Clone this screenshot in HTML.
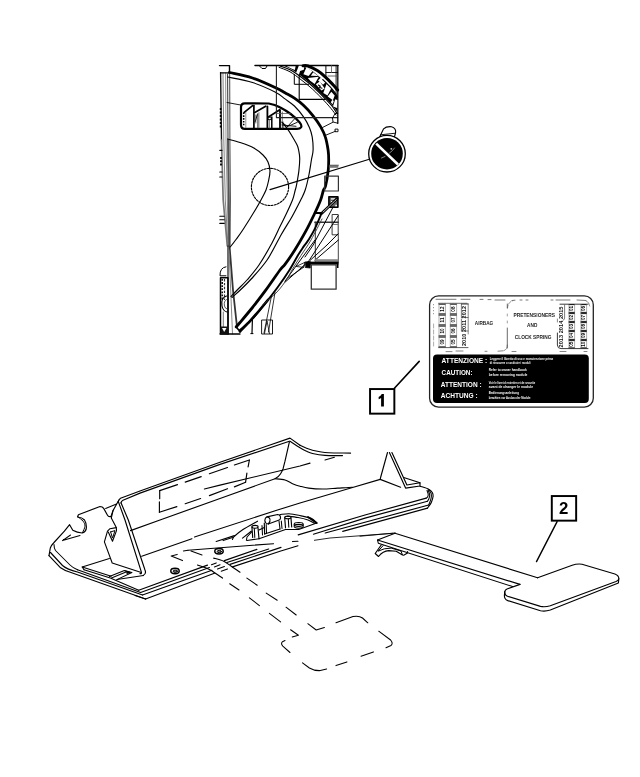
<!DOCTYPE html>
<html><head><meta charset="utf-8"><title>diagram</title>
<style>html,body{margin:0;padding:0;background:#fff;width:640px;height:777px;overflow:hidden}svg{display:block}
text{font-family:"Liberation Sans",sans-serif}svg{filter:grayscale(1)}</style></head>
<body><svg width="640" height="777" viewBox="0 0 640 777">
<rect width="640" height="777" fill="#fff"/>
<g fill="none" stroke="#000" stroke-linecap="round" stroke-linejoin="round">
<polyline points="219.5,65.6 229.5,65.6 229.5,72.5" stroke-width="1.4" />
<polyline points="220.6,72.6 221.5,140.0" stroke-width="1.4" stroke="#111"/>
<polyline points="221.5,140.0 223.2,200.0 227.3,246.0" stroke-width="1.7" stroke="#777"/>
<polyline points="223.0,73.0 223.8,140.0 225.3,200.0 228.0,246.0" stroke-width="0.8" stroke="#666"/>
<polyline points="225.6,73.0 226.0,140.0 227.3,200.0 228.5,246.0" stroke-width="0.9" stroke="#888"/>
<polyline points="227.6,74.0 228.0,140.0" stroke-width="1" stroke="#333"/>
<polyline points="228.0,140.0 228.8,200.0 229.2,246.0" stroke-width="2" stroke="#555"/>
<polyline points="229.7,73.0 229.9,140.0 230.4,200.0 230.0,246.0" stroke-width="0.9" stroke="#333"/>
<polyline points="220.5,72.8 229.5,72.8" stroke-width="1.2" />
<polyline points="228.0,246.0 228.0,334.0" stroke-width="1.3" stroke="#222"/>
<polyline points="229.6,247.0 233.0,290.0 237.0,327.0" stroke-width="1.8" stroke="#333"/>
<polyline points="229.0,250.0 232.5,334.0" stroke-width="0.9" stroke="#777"/>
<polyline points="220.0,334.0 240.0,334.0" stroke-width="1.3" />
<path d="M229.4,72.5 C233.2,73.4 244.7,75.4 252.5,78.0 C260.3,80.6 270.8,85.5 276.2,88.0 C281.6,90.5 282.0,91.1 285.0,92.8 C288.0,94.5 291.3,96.1 294.4,98.2 C297.5,100.3 300.6,102.6 303.7,105.5 C306.8,108.4 310.3,112.3 313.1,115.8 C315.9,119.3 318.6,123.1 320.6,126.6 C322.6,130.1 324.1,133.0 325.3,136.9 C326.6,140.8 327.5,146.2 328.1,150.0 C328.7,153.8 328.7,156.6 328.7,160.0 C328.7,163.4 328.7,166.2 328.2,170.6 C327.7,175.0 326.3,183.0 325.5,186.2 C324.7,189.4 324.3,187.7 323.5,190.0 C322.7,192.3 322.1,196.0 320.6,200.0 C319.1,204.0 316.9,208.8 314.4,214.0 C311.9,219.2 309.1,225.2 305.8,231.2 C302.5,237.2 298.3,244.5 294.8,250.0 C291.3,255.5 287.5,261.1 285.0,264.4 C282.5,267.7 283.3,265.5 280.0,270.0 C276.7,274.5 269.6,284.9 265.0,291.2 C260.4,297.4 256.7,302.3 252.5,307.5 C248.3,312.7 242.7,319.3 240.0,322.5 C237.3,325.7 236.8,326.2 236.2,326.9" stroke-width="2.8" />
<path d="M227.5,77.0 C231.7,77.9 244.6,80.0 252.5,82.5 C260.4,85.0 269.6,89.3 275.0,92.0 C280.4,94.7 281.8,96.6 285.0,98.9 C288.2,101.2 291.3,103.0 294.4,106.0 C297.5,109.0 301.2,113.6 303.7,117.2 C306.2,120.8 308.0,124.2 309.4,127.5 C310.8,130.8 311.6,133.2 312.2,136.9 C312.8,140.7 313.2,146.2 313.1,150.0 C313.0,153.8 312.1,155.9 311.4,160.0 C310.7,164.1 310.0,169.5 309.0,174.5 C308.0,179.5 306.6,185.8 305.2,190.0 C303.8,194.2 302.9,195.5 300.7,200.0 C298.4,204.5 295.0,211.4 291.7,217.2 C288.4,223.0 285.1,227.8 281.0,235.0 C276.9,242.2 271.9,253.0 266.9,260.3 C261.9,267.6 255.6,274.1 251.2,279.0 C246.8,283.9 243.5,286.9 240.3,290.0 C237.1,293.1 233.4,296.2 232.0,297.5" stroke-width="1.15" />
<path d="M282.0,122.3 C283.0,123.5 286.1,127.0 287.8,129.4 C289.6,131.8 290.9,134.2 292.5,136.9 C294.1,139.6 296.2,143.1 297.2,145.3 C298.2,147.5 298.2,147.9 298.6,150.0 C299.0,152.1 299.6,154.6 299.7,158.0 C299.8,161.4 299.4,166.2 298.9,170.6 C298.4,175.0 297.2,181.3 296.6,184.7 C296.0,188.1 295.7,188.4 295.0,191.0 C294.3,193.6 294.0,196.2 292.5,200.0 C291.0,203.8 288.3,209.6 286.2,214.0 C284.1,218.4 282.4,221.8 280.0,226.6 C277.6,231.4 275.5,236.6 272.0,243.0 C268.5,249.4 263.2,258.8 259.0,265.0 C254.8,271.2 250.6,275.8 247.0,280.0 C243.4,284.2 239.9,287.2 237.2,290.0 C234.5,292.8 232.0,295.4 231.0,296.5" stroke-width="1.15" />
<path d="M227.5,139.0 C229.6,139.6 235.6,141.0 240.0,142.5 C244.4,144.0 250.0,145.9 253.8,148.0 C257.6,150.1 260.6,152.7 263.0,155.0 C265.4,157.3 266.8,159.3 268.0,162.0 C269.2,164.7 269.9,167.8 270.0,171.0 C270.1,174.2 269.2,177.8 268.5,181.0 C267.8,184.2 267.1,187.2 266.0,190.0 C264.9,192.8 263.7,194.9 262.0,198.0 C260.3,201.1 259.1,203.5 256.0,208.7 C252.9,213.9 246.7,223.9 243.4,229.0 C240.1,234.1 238.2,236.5 236.0,239.5 C233.8,242.5 231.2,245.8 230.2,247.0" stroke-width="1.15" />
<circle cx="270" cy="186.9" r="18.6" stroke-width="1.15" stroke-dasharray="1.9 1.35"/>
<polyline points="270.0,189.6 368.5,159.5" stroke-width="1.1" />
<path d="M379.4,137.5 L383.6,128.8 Q386,126.3 391.5,126.7 Q396.3,128.3 395.6,132.5 L394.3,137.5" stroke-width="1.1"/>
<polyline points="380.5,134.8 394.6,133.3" stroke-width="0.9" />
<circle cx="387" cy="153.7" r="18.3" stroke-width="1.3" fill="#fff"/>
<circle cx="387" cy="153.7" r="15.8" fill="#000" stroke="none"/>
<polyline points="376.2,143.6 398.0,164.5" stroke-width="2.6" stroke="#fff" stroke-linecap="butt"/>
<circle cx="391.3" cy="148.8" r="0.9" fill="#ccc" stroke="none"/>
<polyline points="389.5,153.0 392.5,150.5 394.5,148.0" stroke-width="0.7" stroke="#bbb"/>
<polyline points="381.5,158.0 385.0,156.5" stroke-width="0.7" stroke="#bbb"/>
<polyline points="227.0,102.5 240.6,105.0" stroke-width="0.9" />
<path d="M244.8,103.3 L268.8,103.5 Q275,104.5 279.8,107.3 Q286,110.5 290.7,114 Q296,118 299.5,122.3 Q302.3,125.8 301,127.3 Q300,128.8 297,128.8 L244.8,128.9 Q241,128.9 241,125 L241,107.2 Q241,103.3 244.8,103.3Z" stroke-width="2.2"/>
<polyline points="253.9,105.5 253.9,128.0" stroke-width="1.7" />
<polyline points="257.9,113.5 257.9,128.0" stroke-width="1" stroke="#333"/>
<polyline points="267.4,106.5 267.4,128.0" stroke-width="1.8" />
<polyline points="271.8,117.0 271.8,128.0" stroke-width="1.5" />
<polyline points="280.0,110.5 280.0,128.0" stroke-width="1.8" />
<polyline points="282.3,112.0 282.3,128.0" stroke-width="0.8" stroke="#555"/>
<polyline points="244.2,112.4 252.6,105.6" stroke-width="1.7" />
<polyline points="254.8,112.4 265.7,106.2" stroke-width="1.7" />
<polyline points="268.8,116.8 279.8,109.7" stroke-width="1.7" />
<polyline points="243.7,112.5 243.7,126.0" stroke-width="1.5" stroke-dasharray="1.6 1.2" stroke-linecap="butt"/>
<polyline points="245.8,112.5 245.8,127.5" stroke-width="0.7" stroke="#666"/>
<polyline points="259.0,112.5 259.0,127.5" stroke-width="0.7" stroke="#666"/>
<polyline points="255.2,121.7 257.3,114.6" stroke-width="1" />
<polyline points="255.8,115.0 255.8,123.0" stroke-width="0.8" stroke="#444"/>
<rect x="268.4" y="117.2" width="2.8" height="2.4" stroke-width="0.9"/>
<polyline points="269.5,120.0 269.5,128.0" stroke-width="0.7" stroke="#555"/>
<polyline points="287.4,126.6 282.0,122.3" stroke-width="1" />
<polyline points="287.4,126.6 295.0,118.4" stroke-width="0.9" />
<polyline points="287.4,126.6 297.3,122.3" stroke-width="0.9" />
<polyline points="282.0,125.0 296.0,126.3" stroke-width="0.9" />
<polyline points="283.0,122.0 283.0,128.0" stroke-width="0.8" />
<polyline points="276.4,65.6 276.4,117.6 337.7,117.6" stroke-width="1.1" stroke="#222"/>
<polyline points="276.2,113.5 290.0,113.5" stroke-width="0.8" stroke="#555"/>
<polyline points="255.0,65.6 338.0,65.6" stroke-width="1.5" />
<polyline points="337.8,65.6 337.8,123.3" stroke-width="1.3" />
<path d="M259.5,66 L262,68.5 L265.5,68.5 L267,66" stroke-width="1"/>
<polyline points="294.3,74.5 294.3,84.3 308.7,84.3" stroke-width="1" />
<polyline points="299.2,73.7 299.2,99.4 325.3,99.4" stroke-width="1.1" />
<polyline points="325.9,65.6 325.9,77.6" stroke-width="1" />
<polyline points="336.1,65.6 336.1,100.0" stroke-width="0.9" />
<polyline points="326.0,72.5 337.7,72.5" stroke-width="0.9" />
<polyline points="328.0,76.0 337.7,76.0" stroke-width="0.8" stroke="#444"/>
<polyline points="331.5,65.6 331.5,72.5" stroke-width="0.8" stroke="#555"/>
<path d="M284,66 Q290,68.3 293,70.3 L301.7,76.6 L313.4,86 L325.2,97.7 L331.5,104.5 L337,111.5 L337.5,97 Q334.5,92.2 330.6,87.4 L322.8,79.6 L313.4,71.8 Q308.5,68.6 304,66.4 L296,65.8 Z" fill="#000" stroke="none"/>
<polygon points="286.6,66.2 295.6,66.3 294.9,70.0 291.3,68.5" fill="#fff" stroke="none"/>
<polygon points="296.1,72.7 298.8,65.7 304.5,65.7 303.8,69.7 300.1,71.1 298.9,74.7" fill="#fff" stroke="none"/>
<polygon points="303.4,74.2 306.5,67.3 312.4,71.2 308.6,76.1" fill="#fff" stroke="none"/>
<polygon points="310.9,75.7 313.2,72.3 318.3,76.1" fill="#fff" stroke="none"/>
<polygon points="307.8,78.1 318.8,76.8 314.7,83.9 310.2,80.8" fill="#fff" stroke="none"/>
<polygon points="318.1,80.5 321.0,77.6 325.4,82.5 323.0,84.8" fill="#fff" stroke="none"/>
<polygon points="315.8,84.2 319.8,81.5 324.7,88.4 321.5,90.4" fill="#fff" stroke="none"/>
<polygon points="323.3,92.9 326.5,83.9 332.3,86.3 327.5,95.5" fill="#fff" stroke="none"/>
<polygon points="327.7,96.5 331.3,91.8 334.7,95.5 332.9,100.2" fill="#fff" stroke="none"/>
<polygon points="333.0,106.5 335.2,99.2 337.3,100.1 337.1,108.1" fill="#fff" stroke="none"/>
<polygon points="330.8,102.3 332.3,99.8 333.9,101.1 332.5,104.2" fill="#fff" stroke="none"/>
<polyline points="318.3,85.0 320.3,86.3 319.3,87.3 322.0,88.2" stroke-width="1.1" />
<path d="M280.0,66.0 C281.7,66.6 286.4,67.9 290.0,69.8 C293.6,71.7 297.8,74.7 301.7,77.6 C305.6,80.5 309.5,83.5 313.4,87.0 C317.3,90.5 322.1,95.5 325.2,98.7 C328.3,101.9 330.0,103.5 332.0,106.0 C334.0,108.5 336.2,112.2 337.0,113.4" stroke-width="1.2" />
<path d="M279.0,67.3 C280.8,68.0 286.4,69.8 290.0,71.8 C293.6,73.8 297.1,76.7 300.9,79.6 C304.7,82.5 308.8,85.7 312.7,89.3 C316.6,92.9 321.3,97.8 324.4,101.0 C327.4,104.2 329.1,106.2 331.0,108.5 C332.9,110.8 335.2,113.9 336.0,115.0" stroke-width="1" />
<path d="M303.0,65.8 C303.8,65.8 305.6,65.2 308.0,66.0 C310.4,66.8 314.4,68.8 317.3,70.6 C320.2,72.4 322.6,74.4 325.2,76.8 C327.8,79.2 330.9,82.5 333.0,84.7 C335.1,86.9 336.9,89.2 337.7,90.1" stroke-width="3" />
<path d="M322.8,79.6 C324.1,80.9 328.7,85.3 330.6,87.4 C332.6,89.5 333.4,90.6 334.5,92.2 C335.6,93.8 337.0,96.2 337.5,97.0" stroke-width="1.2" />
<polyline points="332.5,118.2 335.0,113.5 337.7,113.5" stroke-width="0.9" />
<polyline points="332.5,118.2 333.0,122.0 337.7,123.2" stroke-width="0.9" />
<polyline points="322.5,127.5 332.8,122.3" stroke-width="0.9" />
<polyline points="326.2,135.0 335.6,131.2" stroke-width="0.9" />
<rect x="335.4" y="129.1" width="2.6" height="2.6" stroke-width="0.9"/>
<rect x="329.4" y="165.2" width="9" height="2.6" fill="#777" stroke="none"/>
<polyline points="329.4,165.2 338.4,165.2" stroke-width="0.8" stroke="#444"/>
<rect x="324.7" y="176.1" width="13.7" height="14.9" stroke-width="1.2" stroke="#333"/>
<polyline points="325.5,177.0 325.5,181.0" stroke-width="1" stroke="#555"/>
<rect x="328.9" y="196.7" width="9" height="10.6" stroke-width="1.6" fill="#666"/>
<rect x="331" y="198.3" width="4.2" height="1.2" fill="#fff" stroke="none"/>
<rect x="331" y="201" width="2" height="1.6" fill="#fff" stroke="none"/>
<rect x="335.3" y="204.8" width="1.6" height="1.5" fill="#fff" stroke="none"/>
<polyline points="337.0,198.8 321.0,214.0" stroke-width="2.8" />
<polyline points="336.3,199.6 322.5,212.6" stroke-width="0.8" stroke="#fff" stroke-dasharray="2.2 1"/>
<polyline points="315.8,213.1 321.0,212.9" stroke-width="2" />
<rect x="332.5" y="214.5" width="5.7" height="20.3" stroke-width="0.9" stroke="#222"/>
<polyline points="314.9,222.2 338.1,222.2" stroke-width="1.6" stroke="#333"/>
<polyline points="315.3,222.2 315.3,262.0" stroke-width="1" stroke="#333"/>
<polyline points="338.3,235.0 338.3,262.0" stroke-width="1" stroke="#444"/>
<polyline points="333.5,224.5 337.5,224.5" stroke-width="0.8" stroke="#555"/>
<polyline points="333.0,207.2 313.2,245.0 305.0,257.0" stroke-width="1" />
<polyline points="338.1,215.8 319.2,245.0 308.4,261.6" stroke-width="1" />
<polyline points="338.1,233.8 327.0,245.0 310.3,260.2" stroke-width="1" />
<polyline points="338.4,240.0 315.0,260.2" stroke-width="1" />
<polyline points="315.0,240.0 285.0,281.2" stroke-width="1" />
<rect x="315" y="259.2" width="23.4" height="2.6" fill="#888" stroke="none"/>
<polyline points="307.0,263.1 338.4,263.1" stroke-width="2.9" stroke-linecap="butt"/>
<polyline points="337.7,262.0 337.7,268.0" stroke-width="1.6" stroke-linecap="butt"/>
<path d="M305.2,262 L310.3,261.6 L310.3,268 L305.5,267.5 Z" fill="#000" stroke-width="0.8"/>
<path d="M296.5,266.3 L305,262.3 L303.5,267 Z" fill="#fff" stroke-width="0.8"/>
<rect x="311.3" y="264.8" width="24.8" height="24.4" stroke-width="1.3" stroke="#333"/>
<polyline points="305.2,264.4 285.0,282.2" stroke-width="1" />
<polyline points="303.7,267.2 288.7,277.5" stroke-width="0.9" />
<path d="M320.6,215.6 C319.6,217.9 316.4,225.6 314.4,229.7 C312.4,233.8 310.2,237.1 308.4,240.0 C306.6,242.9 305.1,244.4 303.4,246.9 C301.7,249.4 300.4,251.2 298.1,255.0 C295.8,258.9 292.9,264.6 289.5,270.0 C286.1,275.4 281.6,281.9 277.5,287.5 C273.4,293.1 269.2,298.5 265.0,303.7 C260.8,308.9 256.7,314.3 252.5,318.7 C248.3,323.1 242.1,328.1 240.0,330.0" stroke-width="1.9" />
<path d="M268.0,300.0 C266.3,302.0 261.3,308.1 258.0,312.0 C254.7,315.9 251.0,319.9 248.0,323.2 C245.0,326.4 241.3,330.1 240.0,331.5" stroke-width="2.6" />
<path d="M322.0,219.0 C320.2,222.5 314.5,233.9 311.0,240.0 C307.5,246.1 304.2,250.5 301.0,255.5 C297.8,260.5 294.4,265.9 292.0,270.0 C289.6,274.1 288.8,276.3 286.3,280.0 C283.8,283.7 281.0,287.8 277.0,292.0 C273.0,296.2 264.8,303.0 262.3,305.2" stroke-width="0.9" stroke="#333"/>
<polyline points="236.2,326.9 240.0,331.5" stroke-width="1.6" />
<polyline points="275.0,292.5 268.5,332.0" stroke-width="0.8" />
<polyline points="271.5,296.0 264.0,333.0" stroke-width="0.8" />
<rect x="262" y="320" width="10.5" height="14" stroke-width="0.9"/>
<polyline points="264.5,333.5 267.0,321.0 269.5,333.5" stroke-width="0.8" />
<polyline points="252.4,320.0 252.0,333.5" stroke-width="1.2" />
<polyline points="250.8,333.6 253.0,333.6" stroke-width="1" />
<polyline points="219.8,216.2 224.2,216.2" stroke-width="1.1" />
<polyline points="219.8,219.8 224.2,219.8" stroke-width="1.1" />
<polyline points="219.8,223.4 224.2,223.4" stroke-width="1.1" />
<polyline points="219.8,150.3 222.0,150.3" stroke-width="1.2" />
<polyline points="219.8,172.0 222.0,172.0" stroke-width="1.2" />
<polyline points="219.8,177.0 222.0,177.0" stroke-width="1.2" />
<polyline points="221.0,157.0 221.0,166.0" stroke-width="1.8" stroke-dasharray="2 1.2" stroke-linecap="butt"/>
<polyline points="220.6,108.0 220.6,128.0" stroke-width="1.6" stroke-dasharray="2 1.5" stroke-linecap="butt"/>
<path d="M226,266.8 Q219.8,267.5 220,275.8 L226,275.8" stroke-width="1"/>
<rect x="220.5" y="277.8" width="7.5" height="56" stroke-width="1.5"/>
<polyline points="222.2,279.0 222.2,300.0" stroke-width="1.5" stroke-dasharray="1.8 1.3" stroke-linecap="butt"/>
<polyline points="224.5,279.0 224.5,300.0" stroke-width="1.2" stroke-dasharray="2.4 1.5" stroke="#333" stroke-linecap="butt"/>
<path d="M226.5,296 Q220.5,298 222,306 Q223,311 227,312" stroke-width="1.1"/>
<path d="M226.5,299.5 Q223.5,301 224.5,306 Q225,308.5 227,309" stroke-width="0.9" stroke="#444"/>
<polyline points="223.3,312.0 223.3,327.0" stroke-width="0.8" stroke="#555"/>
<rect x="220.5" y="326.5" width="7.5" height="7.5" fill="#111" stroke="none"/>
<path d="M222,328 L226.5,328 L224.2,332 Z" fill="#fff" stroke="none"/>
<rect x="429.6" y="295.8" width="163.7" height="111.4" rx="9" stroke-width="1.3" stroke="#222"/>
<rect x="433" y="354.5" width="155.8" height="48.6" rx="4" fill="#000" stroke="none"/>
<polyline points="436.0,299.3 456.0,299.3" stroke-width="0.8" stroke="#555"/>
<polyline points="461.0,299.3 470.0,299.3" stroke-width="0.8" stroke="#555"/>
<polyline points="480.0,299.4 483.0,299.4" stroke-width="0.8" stroke="#555"/>
<polyline points="488.0,299.6 491.0,299.6" stroke-width="0.8" stroke="#555"/>
<polyline points="495.0,300.0 505.0,300.0" stroke-width="0.8" stroke="#555"/>
<polyline points="512.0,300.5 515.0,300.2" stroke-width="0.8" stroke="#555"/>
<polyline points="520.0,300.0 522.0,300.0" stroke-width="0.8" stroke="#555"/>
<polyline points="526.0,300.0 528.0,300.0" stroke-width="0.8" stroke="#555"/>
<polyline points="551.0,300.0 553.0,300.0" stroke-width="0.8" stroke="#555"/>
<polyline points="556.0,300.0 570.0,300.0" stroke-width="0.8" stroke="#555"/>
<polyline points="577.0,300.0 586.0,300.5" stroke-width="0.8" stroke="#555"/>
<path d="M507.5,308 Q508,302 513,300.6" stroke-width="0.7" stroke="#666" stroke-dasharray="3 1.5"/>
<path d="M507.3,345 Q507.5,349.5 504,350.6" stroke-width="0.7" stroke="#666"/>
<path d="M586,300.8 Q589.5,302 589.8,306" stroke-width="0.7" stroke="#666"/>
<polyline points="507.3,304.0 507.3,308.0" stroke-width="0.8" stroke="#444"/>
<polyline points="507.3,328.0 507.3,348.0" stroke-width="0.8" stroke="#444"/>
<polyline points="507.3,314.0 507.3,316.0" stroke-width="0.7" stroke="#777"/>
<polyline points="507.3,321.0 507.3,323.0" stroke-width="0.7" stroke="#777"/>
<polyline points="456.0,351.0 463.0,351.0" stroke-width="0.8" stroke="#666"/>
<polyline points="485.0,351.3 487.0,351.3" stroke-width="0.8" stroke="#666"/>
<polyline points="498.0,351.2 503.0,350.8" stroke-width="0.8" stroke="#666"/>
<polyline points="512.0,351.5 516.0,351.5" stroke-width="0.8" stroke="#666"/>
<polyline points="560.0,351.5 566.0,351.5" stroke-width="0.8" stroke="#666"/>
<polyline points="584.0,351.5 587.0,351.5" stroke-width="0.8" stroke="#666"/>
<polyline points="446.0,351.6 452.0,351.6" stroke-width="0.8" stroke="#666"/>
<polyline points="433.5,304.2 433.5,314.5" stroke-width="0.9" stroke="#777" stroke-dasharray="1 2" stroke-linecap="butt"/>
<polyline points="433.6,324.0 433.6,346.0" stroke-width="0.7" stroke="#888" stroke-dasharray="4 2"/>
<polyline points="439.0,304.2 445.4,304.2" stroke-width="1" stroke="#111"/>
<polyline points="439.0,313.9 445.4,313.9" stroke-width="1" stroke="#111"/>
<polyline points="439.0,304.2 439.0,313.9" stroke-width="0.6" stroke="#777"/>
<polyline points="445.4,304.2 445.4,313.9" stroke-width="0.6" stroke="#777"/>
<text transform="translate(443.7,309.1) rotate(-90)" font-size="4.6" font-weight="bold" text-anchor="middle" fill="#000" stroke="none">12</text>
<polyline points="439.0,315.1 445.4,315.1" stroke-width="1" stroke="#111"/>
<polyline points="439.0,324.9 445.4,324.9" stroke-width="1" stroke="#111"/>
<polyline points="439.0,315.1 439.0,324.9" stroke-width="0.6" stroke="#777"/>
<polyline points="445.4,315.1 445.4,324.9" stroke-width="0.6" stroke="#777"/>
<text transform="translate(443.7,320.0) rotate(-90)" font-size="4.6" font-weight="bold" text-anchor="middle" fill="#000" stroke="none">11</text>
<polyline points="439.0,326.1 445.4,326.1" stroke-width="1" stroke="#111"/>
<polyline points="439.0,335.9 445.4,335.9" stroke-width="1" stroke="#111"/>
<polyline points="439.0,326.1 439.0,335.9" stroke-width="0.6" stroke="#777"/>
<polyline points="445.4,326.1 445.4,335.9" stroke-width="0.6" stroke="#777"/>
<text transform="translate(443.7,331.0) rotate(-90)" font-size="4.6" font-weight="bold" text-anchor="middle" fill="#000" stroke="none">10</text>
<polyline points="439.0,337.1 445.4,337.1" stroke-width="1" stroke="#111"/>
<polyline points="439.0,346.9 445.4,346.9" stroke-width="1" stroke="#111"/>
<polyline points="439.0,337.1 439.0,346.9" stroke-width="0.6" stroke="#777"/>
<polyline points="445.4,337.1 445.4,346.9" stroke-width="0.6" stroke="#777"/>
<text transform="translate(443.7,342.0) rotate(-90)" font-size="4.6" font-weight="bold" text-anchor="middle" fill="#000" stroke="none">09</text>
<polyline points="450.3,304.2 456.6,304.2" stroke-width="1" stroke="#111"/>
<polyline points="450.3,313.9 456.6,313.9" stroke-width="1" stroke="#111"/>
<polyline points="450.3,304.2 450.3,313.9" stroke-width="0.6" stroke="#777"/>
<polyline points="456.6,304.2 456.6,313.9" stroke-width="0.6" stroke="#777"/>
<text transform="translate(455.0,309.1) rotate(-90)" font-size="4.6" font-weight="bold" text-anchor="middle" fill="#000" stroke="none">08</text>
<polyline points="450.3,315.1 456.6,315.1" stroke-width="1" stroke="#111"/>
<polyline points="450.3,324.9 456.6,324.9" stroke-width="1" stroke="#111"/>
<polyline points="450.3,315.1 450.3,324.9" stroke-width="0.6" stroke="#777"/>
<polyline points="456.6,315.1 456.6,324.9" stroke-width="0.6" stroke="#777"/>
<text transform="translate(455.0,320.0) rotate(-90)" font-size="4.6" font-weight="bold" text-anchor="middle" fill="#000" stroke="none">07</text>
<polyline points="450.3,326.1 456.6,326.1" stroke-width="1" stroke="#111"/>
<polyline points="450.3,335.9 456.6,335.9" stroke-width="1" stroke="#111"/>
<polyline points="450.3,326.1 450.3,335.9" stroke-width="0.6" stroke="#777"/>
<polyline points="456.6,326.1 456.6,335.9" stroke-width="0.6" stroke="#777"/>
<text transform="translate(455.0,331.0) rotate(-90)" font-size="4.6" font-weight="bold" text-anchor="middle" fill="#000" stroke="none">06</text>
<polyline points="450.3,337.1 456.6,337.1" stroke-width="1" stroke="#111"/>
<polyline points="450.3,346.9 456.6,346.9" stroke-width="1" stroke="#111"/>
<polyline points="450.3,337.1 450.3,346.9" stroke-width="0.6" stroke="#777"/>
<polyline points="456.6,337.1 456.6,346.9" stroke-width="0.6" stroke="#777"/>
<text transform="translate(455.0,342.0) rotate(-90)" font-size="4.6" font-weight="bold" text-anchor="middle" fill="#000" stroke="none">05</text>
<text transform="translate(466.4,326) rotate(-90)" font-size="4.8" font-weight="bold" text-anchor="middle" fill="#111" stroke="none" textLength="40" lengthAdjust="spacingAndGlyphs">2010 2011 2012</text>
<polyline points="461.4,304.0 468.2,304.0" stroke-width="0.9" stroke="#222"/>
<polyline points="461.4,304.0 461.4,317.0" stroke-width="0.7" stroke="#444"/>
<polyline points="468.2,304.0 468.2,334.0" stroke-width="0.7" stroke="#555"/>
<polyline points="461.4,319.0 461.4,331.0" stroke-width="0.7" stroke="#444"/>
<polyline points="461.4,331.0 468.0,331.0" stroke-width="0.7" stroke="#444"/>
<polyline points="461.4,317.5 468.0,317.5" stroke-width="0.7" stroke="#444"/>
<polyline points="438.6,347.6 468.0,347.6" stroke-width="0.8" stroke="#333"/>
<polyline points="438.6,303.3 467.0,303.3" stroke-width="0.8" stroke="#444"/>
<text transform="translate(563.3,327) rotate(-90)" font-size="4.9" font-weight="bold" text-anchor="middle" fill="#111" stroke="none" textLength="41" lengthAdjust="spacingAndGlyphs">2013 2014 2015</text>
<path d="M560,304.2 L588,304.2" stroke-width="0.9" stroke="#222"/>
<path d="M557.4,333 L557.4,345 Q557.6,348.6 561,348.6 L588,348.6" stroke-width="0.9" stroke="#222"/>
<path d="M564.6,305 L564.6,318 Q564.6,320 563,320.3" stroke-width="0.7" stroke="#444"/>
<polyline points="557.4,319.0 557.4,322.0" stroke-width="0.7" stroke="#555"/>
<polyline points="569.0,304.6 574.6,304.6" stroke-width="1" stroke="#111"/>
<polyline points="569.0,312.4 574.6,312.4" stroke-width="1" stroke="#111"/>
<polyline points="569.0,304.6 569.0,312.4" stroke-width="0.6" stroke="#777"/>
<polyline points="574.6,304.6 574.6,312.4" stroke-width="0.6" stroke="#777"/>
<text transform="translate(573.3,308.5) rotate(-90)" font-size="4.6" font-weight="bold" text-anchor="middle" fill="#000" stroke="none">01</text>
<polyline points="569.0,313.6 574.6,313.6" stroke-width="1" stroke="#111"/>
<polyline points="569.0,321.4 574.6,321.4" stroke-width="1" stroke="#111"/>
<polyline points="569.0,313.6 569.0,321.4" stroke-width="0.6" stroke="#777"/>
<polyline points="574.6,313.6 574.6,321.4" stroke-width="0.6" stroke="#777"/>
<text transform="translate(573.3,317.5) rotate(-90)" font-size="4.6" font-weight="bold" text-anchor="middle" fill="#000" stroke="none">02</text>
<polyline points="569.0,322.6 574.6,322.6" stroke-width="1" stroke="#111"/>
<polyline points="569.0,330.4 574.6,330.4" stroke-width="1" stroke="#111"/>
<polyline points="569.0,322.6 569.0,330.4" stroke-width="0.6" stroke="#777"/>
<polyline points="574.6,322.6 574.6,330.4" stroke-width="0.6" stroke="#777"/>
<text transform="translate(573.3,326.5) rotate(-90)" font-size="4.6" font-weight="bold" text-anchor="middle" fill="#000" stroke="none">03</text>
<polyline points="569.0,331.6 574.6,331.6" stroke-width="1" stroke="#111"/>
<polyline points="569.0,339.4 574.6,339.4" stroke-width="1" stroke="#111"/>
<polyline points="569.0,331.6 569.0,339.4" stroke-width="0.6" stroke="#777"/>
<polyline points="574.6,331.6 574.6,339.4" stroke-width="0.6" stroke="#777"/>
<text transform="translate(573.3,335.5) rotate(-90)" font-size="4.6" font-weight="bold" text-anchor="middle" fill="#000" stroke="none">04</text>
<polyline points="569.0,340.6 574.6,340.6" stroke-width="1" stroke="#111"/>
<polyline points="569.0,347.9 574.6,347.9" stroke-width="1" stroke="#111"/>
<polyline points="569.0,340.6 569.0,347.9" stroke-width="0.6" stroke="#777"/>
<polyline points="574.6,340.6 574.6,347.9" stroke-width="0.6" stroke="#777"/>
<text transform="translate(573.3,344.2) rotate(-90)" font-size="4.6" font-weight="bold" text-anchor="middle" fill="#000" stroke="none">05</text>
<polyline points="581.0,304.6 586.6,304.6" stroke-width="1" stroke="#111"/>
<polyline points="581.0,312.4 586.6,312.4" stroke-width="1" stroke="#111"/>
<polyline points="581.0,304.6 581.0,312.4" stroke-width="0.6" stroke="#777"/>
<polyline points="586.6,304.6 586.6,312.4" stroke-width="0.6" stroke="#777"/>
<text transform="translate(585.3,308.5) rotate(-90)" font-size="4.6" font-weight="bold" text-anchor="middle" fill="#000" stroke="none">06</text>
<polyline points="581.0,313.6 586.6,313.6" stroke-width="1" stroke="#111"/>
<polyline points="581.0,321.4 586.6,321.4" stroke-width="1" stroke="#111"/>
<polyline points="581.0,313.6 581.0,321.4" stroke-width="0.6" stroke="#777"/>
<polyline points="586.6,313.6 586.6,321.4" stroke-width="0.6" stroke="#777"/>
<text transform="translate(585.3,317.5) rotate(-90)" font-size="4.6" font-weight="bold" text-anchor="middle" fill="#000" stroke="none">07</text>
<polyline points="581.0,322.6 586.6,322.6" stroke-width="1" stroke="#111"/>
<polyline points="581.0,330.4 586.6,330.4" stroke-width="1" stroke="#111"/>
<polyline points="581.0,322.6 581.0,330.4" stroke-width="0.6" stroke="#777"/>
<polyline points="586.6,322.6 586.6,330.4" stroke-width="0.6" stroke="#777"/>
<text transform="translate(585.3,326.5) rotate(-90)" font-size="4.6" font-weight="bold" text-anchor="middle" fill="#000" stroke="none">08</text>
<polyline points="581.0,331.6 586.6,331.6" stroke-width="1" stroke="#111"/>
<polyline points="581.0,339.4 586.6,339.4" stroke-width="1" stroke="#111"/>
<polyline points="581.0,331.6 581.0,339.4" stroke-width="0.6" stroke="#777"/>
<polyline points="586.6,331.6 586.6,339.4" stroke-width="0.6" stroke="#777"/>
<text transform="translate(585.3,335.5) rotate(-90)" font-size="4.6" font-weight="bold" text-anchor="middle" fill="#000" stroke="none">09</text>
<polyline points="581.0,340.6 586.6,340.6" stroke-width="1" stroke="#111"/>
<polyline points="581.0,347.9 586.6,347.9" stroke-width="1" stroke="#111"/>
<polyline points="581.0,340.6 581.0,347.9" stroke-width="0.6" stroke="#777"/>
<polyline points="586.6,340.6 586.6,347.9" stroke-width="0.6" stroke="#777"/>
<text transform="translate(585.3,344.2) rotate(-90)" font-size="4.6" font-weight="bold" text-anchor="middle" fill="#000" stroke="none">10</text>
<text x="484" y="325.2" font-size="4.7" font-weight="bold" text-anchor="middle" fill="#222" stroke="none" textLength="18.5" lengthAdjust="spacingAndGlyphs">AIRBAG</text>
<text x="534.2" y="317" font-size="4.7" font-weight="bold" text-anchor="middle" fill="#222" stroke="none" textLength="41.5" lengthAdjust="spacingAndGlyphs">PRETENSIONERS</text>
<text x="532.2" y="327.4" font-size="4.7" font-weight="bold" text-anchor="middle" fill="#222" stroke="none" textLength="10.2" lengthAdjust="spacingAndGlyphs">AND</text>
<text x="533.1" y="338.9" font-size="4.7" font-weight="bold" text-anchor="middle" fill="#222" stroke="none" textLength="36.6" lengthAdjust="spacingAndGlyphs">CLOCK SPRING</text>
<rect x="370.05" y="389.05" width="24.3" height="24.6" stroke-width="1.95" stroke-linejoin="miter"/>
<polyline points="394.4,388.3 419.2,361.4" stroke-width="1.6" />
<path d="M383.9,406.4 L381.1,406.4 L381.1,398.1 Q380,398.9 378.7,399.3 L378.6,396.9 Q380.8,396.1 381.8,394.1 L383.9,394.1 Z" fill="#000" stroke="none"/>
<rect x="551.8" y="496.05" width="24.35" height="24.6" stroke-width="1.95" stroke-linejoin="miter"/>
<polyline points="557.1,521.6 536.5,561.6" stroke-width="1.4" />
<text x="563.7" y="513.7" font-size="16.8" font-weight="bold" text-anchor="middle" fill="#000" stroke="none">2</text>
<text x="441.6" y="362.9" font-size="7.2" font-weight="bold" fill="#fff" stroke="none" textLength="45.6" lengthAdjust="spacingAndGlyphs">ATTENZIONE :</text>
<text x="441.6" y="375.3" font-size="7.2" font-weight="bold" fill="#fff" stroke="none" textLength="30.9" lengthAdjust="spacingAndGlyphs">CAUTION:</text>
<text x="440.8" y="386.9" font-size="7.2" font-weight="bold" fill="#fff" stroke="none" textLength="40.8" lengthAdjust="spacingAndGlyphs">ATTENTION :</text>
<text x="440.8" y="398.2" font-size="7.2" font-weight="bold" fill="#fff" stroke="none" textLength="36.9" lengthAdjust="spacingAndGlyphs">ACHTUNG :</text>
<text x="489.8" y="359.9" font-size="3.2" font-weight="bold" fill="#fff" stroke="none" textLength="63.4" lengthAdjust="spacingAndGlyphs">Leggere il libretto di uso e manutenzione prima</text>
<text x="489.8" y="363.8" font-size="3.2" font-weight="bold" fill="#fff" stroke="none" textLength="40.7" lengthAdjust="spacingAndGlyphs">di rimuovere o sostituire i moduli</text>
<text x="488.8" y="371" font-size="3.2" font-weight="bold" fill="#fff" stroke="none" textLength="37.9" lengthAdjust="spacingAndGlyphs">Refer to owner handbook</text>
<text x="488.8" y="375.9" font-size="3.2" font-weight="bold" fill="#fff" stroke="none" textLength="38.6" lengthAdjust="spacingAndGlyphs">before removing module</text>
<text x="488.8" y="383.6" font-size="3.2" font-weight="bold" fill="#fff" stroke="none" textLength="46.4" lengthAdjust="spacingAndGlyphs">Voir le livret d entretien et de securite</text>
<text x="488.8" y="387.8" font-size="3.2" font-weight="bold" fill="#fff" stroke="none" textLength="44.2" lengthAdjust="spacingAndGlyphs">avant de changer le module</text>
<text x="488.8" y="394.2" font-size="3.2" font-weight="bold" fill="#fff" stroke="none" textLength="30.2" lengthAdjust="spacingAndGlyphs">Bedienungsanleitung</text>
<text x="488.8" y="398.6" font-size="3.2" font-weight="bold" fill="#fff" stroke="none" textLength="41.7" lengthAdjust="spacingAndGlyphs">beachten vor Ausbau der Module</text>
<path d="M49,555.6 L50.3,548 Q51.5,545 54,542.5 L64.4,531.2 L69.6,524.7 L72.8,530.3 Q77,532.8 82.2,533 Q85.5,532 86.2,529 Q87,524 84.5,520 Q82,517.3 77.5,517 L78.4,514.7 L100,506.5 Q102.5,506.6 103.7,508.4 L107.5,515.3 Q109,517 110.9,516.6 L113,510.6 L118.8,500.3" stroke-width="1.15"/>
<polyline points="105.6,508.4 116.5,504.0" stroke-width="1.05" />
<path d="M78.1,516.9 C78.9,517.6 81.9,519.7 83.1,521.2 C84.2,522.8 85.1,524.3 85.0,526.2 C84.9,528.1 82.9,531.5 82.5,532.5" stroke-width="1" />
<polyline points="70.5,535.0 62.5,540.6 80.0,535.5" stroke-width="1.05" />
<path d="M54,544.4 Q54,548 55.5,550.5 L70,565 Q73,568 77.5,569.7" stroke-width="1.05"/>
<path d="M49,555.6 L60.6,567.8 Q65,571 71,572.5 L145.6,599" stroke-width="1.15"/>
<path d="M50.5,552.5 L62.5,565.5 Q67,569.5 77.5,572 L142.5,595" stroke-width="1.15"/>
<polyline points="77.5,569.7 140.6,592.5" stroke-width="1.15" />
<polyline points="84.0,569.7 110.3,578.0 138.7,590.2" stroke-width="1.15" />
<polyline points="138.7,590.2 207.5,565.1" stroke-width="1.15" />
<polyline points="140.6,592.5 209.4,567.5" stroke-width="1.15" />
<polyline points="142.5,595.0 211.9,570.3" stroke-width="1.15" />
<polyline points="145.6,599.0 214.4,573.3" stroke-width="1.15" />
<polyline points="135.0,595.5 145.6,599.0" stroke-width="1.05" />
<polyline points="224.4,560.6 256.9,549.4" stroke-width="1.15" />
<polyline points="226.9,562.5 268.7,549.0" stroke-width="1.15" />
<polyline points="230.0,564.4 281.0,547.4" stroke-width="1.15" />
<polyline points="232.5,566.9 280.0,551.2 298.0,545.8" stroke-width="1.15" />
<polyline points="298.2,534.9 365.0,515.0 426.2,498.1" stroke-width="1.15" />
<polyline points="313.4,534.2 365.0,518.1 427.5,501.3" stroke-width="1.15" />
<polyline points="325.2,533.0 428.7,505.0" stroke-width="1.15" />
<polyline points="342.7,531.4 427.5,508.1" stroke-width="1.15" />
<path d="M420.0,486.2 C421.4,486.7 426.6,488.1 428.7,489.2 C430.8,490.2 431.6,491.3 432.3,492.5 C433.0,493.7 433.3,494.6 433.1,496.3 C432.9,498.0 432.2,500.5 431.3,502.5 C430.4,504.5 428.1,507.2 427.5,508.1" stroke-width="1.15" />
<path d="M428.7,489.4 C429.1,490.1 430.8,492.1 431.2,493.7 C431.6,495.2 431.4,496.8 431.0,498.7 C430.6,500.6 429.1,503.9 428.7,505.0" stroke-width="1.05" />
<path d="M428.1,490.0 C428.4,490.8 429.6,493.6 429.7,495.0 C429.8,496.4 429.3,497.6 428.9,498.7 C428.5,499.8 427.7,500.9 427.5,501.3" stroke-width="1.05" />
<path d="M427.0,490.5 C427.2,491.2 428.1,493.4 428.2,494.5 C428.3,495.6 427.9,496.4 427.6,497.0 C427.3,497.6 426.4,497.9 426.2,498.1" stroke-width="1.05" />
<polyline points="380.2,479.4 380.6,477.5 387.5,452.5" stroke-width="1.15" />
<polyline points="380.2,479.4 400.6,487.2" stroke-width="1.15" />
<polyline points="389.4,452.5 405.6,488.1 420.0,486.0 420.0,482.8 406.9,485.0 391.9,452.5" stroke-width="1.15" />
<polyline points="403.7,477.5 420.0,482.8" stroke-width="1.15" />
<path d="M118.3,502 Q118.2,500 120.5,498.3 L140,491 L220,462.2 L290,438.1 L300,445.3" stroke-width="1.15"/>
<path d="M121,503 Q121,501.3 123,500.2 L140,493.1 L220,464.4 L289.4,441.2" stroke-width="1.15"/>
<path d="M118.3,501.5 L125,520 L141.3,571.8 Q142,574 140,573.6" stroke-width="1.15"/>
<path d="M121,502.8 L128.3,520 L145,570 Q146.6,574 143.1,575.6" stroke-width="1.15"/>
<polyline points="113.0,510.6 111.3,518.1 116.3,527.6 110.0,528.7 107.5,531.2 104.4,541.9 112.2,563.0 141.3,572.5" stroke-width="1.1" />
<polyline points="116.3,527.6 116.5,530.6 112.5,541.2 108.3,532.0" stroke-width="1.1" />
<polyline points="110.6,531.9 115.0,530.6 112.5,538.1 110.6,531.9" stroke-width="1" />
<polyline points="109.4,558.4 82.2,566.9 84.0,569.7" stroke-width="1.05" />
<polyline points="82.2,566.9 111.2,576.2" stroke-width="1.05" />
<polyline points="109.4,576.6 124.4,570.6 131.9,572.5 116.9,579.6" stroke-width="1.05" />
<polyline points="111.5,578.0 126.0,572.0 129.5,573.0" stroke-width="1.05" />
<polyline points="125.3,571.0 129.8,572.3 127.0,573.5" stroke-width="1.05" />
<polyline points="116.9,579.6 143.5,575.5" stroke-width="1.05" />
<path d="M130.5,530.6 L160,520 L220,498.5 L275,478.7 Q279,476.5 280.6,473.7 Q282.3,471 283.1,468.7 L285,461.2 L289.4,441.9" stroke-width="1.15"/>
<polyline points="141.7,556.3 191.9,538.7" stroke-width="1.15" />
<polyline points="194.5,537.0 277.5,510.0 300.0,503.0 350.0,488.2 380.2,479.4" stroke-width="1.15" />
<polyline points="204.4,489.0 220.0,485.1 300.0,466.0 310.0,463.1" stroke-width="1.15" />
<polyline points="159.7,490.6 177.5,484.6" stroke-width="1.15" />
<polyline points="185.2,482.1 201.2,476.6" stroke-width="1.15" />
<polyline points="209.4,473.7 227.5,467.5" stroke-width="1.15" />
<polyline points="234.4,465.0 249.4,460.0" stroke-width="1.15" />
<polyline points="159.7,490.6 159.7,498.7" stroke-width="1.15" />
<polyline points="159.4,501.9 159.4,512.2" stroke-width="1.15" />
<polyline points="159.4,512.2 176.9,506.6" stroke-width="1.15" />
<polyline points="185.2,503.7 200.6,498.5" stroke-width="1.15" />
<polyline points="209.4,495.6 227.5,488.7" stroke-width="1.15" />
<polyline points="234.4,486.9 245.6,482.2" stroke-width="1.15" />
<polyline points="249.4,460.0 248.1,466.9" stroke-width="1.15" />
<polyline points="246.9,473.1 245.6,482.2" stroke-width="1.15" />
<path d="M300.0,445.3 C301.0,445.8 303.9,447.2 306.0,448.0 C308.1,448.8 310.2,449.7 312.5,450.3 C314.8,450.9 317.3,451.4 320.0,451.8 C322.7,452.2 323.6,452.5 328.7,452.7 C333.8,452.9 347.0,453.0 350.6,453.1" stroke-width="1.15" />
<path d="M290.0,441.3 C291.7,442.4 297.3,446.2 300.0,447.8 C302.7,449.4 303.9,450.1 306.0,451.0 C308.1,451.9 309.3,452.8 312.5,453.5 C315.7,454.2 320.0,455.0 325.0,455.4 C330.0,455.8 339.6,455.6 342.5,455.6" stroke-width="1.15" />
<polyline points="325.0,460.0 334.4,457.2" stroke-width="1.05" />
<path d="M275.0,478.7 C276.7,478.9 282.1,479.2 285.0,480.0 C287.9,480.8 290.0,482.7 292.5,483.7 C295.0,484.7 297.3,485.5 300.0,486.2 C302.7,486.9 304.9,487.6 308.7,488.1 C312.4,488.6 317.7,489.0 322.5,489.0 C327.3,489.0 332.6,488.4 337.5,488.1 C342.4,487.8 349.6,487.4 352.0,487.2" stroke-width="1.15" />
<ellipse cx="175" cy="571" rx="4.2" ry="2.7" stroke-width="1.5"/>
<ellipse cx="175.3" cy="571.2" rx="2.1" ry="1.2" stroke-width="0.95" fill="#777"/>
<ellipse cx="219" cy="551.3" rx="4.2" ry="2.7" stroke-width="1.5"/>
<ellipse cx="219.3" cy="551.5" rx="2.1" ry="1.2" stroke-width="0.95" fill="#777"/>
<polyline points="177.2,554.4 171.2,556.0 182.5,560.6" stroke-width="1.05" />
<polyline points="183.4,551.0 188.0,550.3" stroke-width="1.05" />
<polyline points="188.0,550.3 273.4,543.7" stroke-width="1.15" />
<polyline points="191.0,551.0 202.0,555.0" stroke-width="1.05" />
<path d="M213.7,558.1 C215.4,558.6 220.8,559.9 223.7,561.2 C226.6,562.6 228.5,564.4 231.2,566.2 C233.9,568.0 238.5,571.2 240.0,572.2" stroke-width="1.15" />
<path d="M197.5,565.0 C199.5,565.7 206.5,568.0 209.4,569.4 C212.3,570.8 212.8,571.6 215.0,573.1 C217.2,574.6 221.2,577.3 222.5,578.1" stroke-width="1.15" />
<polyline points="211.5,564.7 216.2,562.9" stroke-width="1.05" />
<polyline points="214.4,566.9 220.0,564.7" stroke-width="1.05" />
<polyline points="217.5,569.0 224.4,566.5" stroke-width="1.05" />
<polyline points="221.2,571.2 227.5,569.0" stroke-width="1.05" />
<polyline points="246.9,578.1 257.2,585.3" stroke-width="1.05" />
<polyline points="266.2,593.1 277.2,600.3" stroke-width="1.05" />
<polyline points="286.0,607.2 296.2,615.0" stroke-width="1.05" />
<polyline points="229.7,583.7 239.0,590.0" stroke-width="1.05" />
<polyline points="249.4,597.8 259.4,605.6" stroke-width="1.05" />
<polyline points="269.4,613.4 280.6,621.9" stroke-width="1.05" />
<polyline points="307.8,623.7 316.2,630.0 324.4,627.5" stroke-width="1.05" />
<polyline points="290.6,629.7 298.4,635.3 292.2,636.9" stroke-width="1.05" />
<path d="M336,622.8 L353,616.6 Q359,615.5 362.5,618 L367.8,622.8" stroke-width="1.05"/>
<path d="M378.7,631.2 L390.6,640 Q393.5,643.5 391,645.5 L386,647.8" stroke-width="1.05"/>
<polyline points="373.4,651.9 361.0,656.2" stroke-width="1.05" />
<polyline points="346.9,661.9 336.0,665.6" stroke-width="1.05" />
<path d="M326.6,669 L320.3,670.6 Q314,670.8 309.4,668 L302.5,662.8" stroke-width="1.05"/>
<path d="M290,652.5 L282.8,646.2 Q280.5,643.5 282.5,641.7 L285,640.6" stroke-width="1.05"/>
<polyline points="216.2,541.5 234.4,535.6" stroke-width="1.15" />
<polyline points="223.1,540.6 232.5,537.5" stroke-width="1.05" />
<path d="M232.5,539.4 C232.8,538.9 232.7,537.9 234.4,536.2 C236.2,534.6 239.2,532.0 243.0,529.5 C246.8,527.0 255.1,522.6 257.5,521.2" stroke-width="1.15" />
<polyline points="242.5,538.1 251.2,531.2" stroke-width="1.15" />
<polyline points="246.4,540.3 247.0,537.0 251.9,531.7" stroke-width="1.05" />
<polyline points="251.9,527.0 252.7,537.5" stroke-width="1.15" />
<polyline points="258.0,527.8 259.0,538.7" stroke-width="1.15" />
<polyline points="254.3,528.5 254.8,537.5" stroke-width="1.05" />
<ellipse cx="255" cy="526.8" rx="3.1" ry="1.4" stroke-width="1.05"/>
<polyline points="247.0,540.5 259.0,538.7" stroke-width="1.05" />
<path d="M266.9,516.9 L277.7,514.5 Q280.8,515 280.5,518.2 Q280.2,519.8 279.2,520 L268.3,524 Q265,523.5 264.8,520.5 Q265,517.5 266.9,516.9 Z" stroke-width="1.15"/>
<path d="M268.3,524 Q270.6,522 270,519 Q269,516.8 266.9,516.9" stroke-width="1.05"/>
<polyline points="264.3,523.0 264.6,534.0" stroke-width="1.15" />
<polyline points="262.0,525.5 262.5,535.0" stroke-width="1.05" />
<polyline points="266.2,524.5 266.5,533.0" stroke-width="1.05" />
<polyline points="259.0,530.0 264.3,527.5" stroke-width="1.05" />
<polyline points="264.6,534.0 280.0,529.0" stroke-width="1.05" />
<polyline points="279.0,521.0 280.0,529.0" stroke-width="1.05" />
<polyline points="281.3,521.0 282.0,528.5" stroke-width="1.05" />
<path d="M280.0,514.5 C281.5,514.4 285.9,513.7 289.0,513.8 C292.1,513.9 295.0,514.5 298.7,515.3 C302.4,516.1 308.2,517.1 311.2,518.4 C314.2,519.7 315.8,522.2 316.7,523.0" stroke-width="1.15" />
<path d="M287.0,516.2 C288.8,516.4 294.5,516.9 298.0,517.5 C301.5,518.1 305.2,519.0 308.0,520.0 C310.8,521.0 313.4,522.8 314.5,523.3" stroke-width="1.05" />
<polyline points="308.0,517.0 316.7,523.0" stroke-width="2" />
<polyline points="284.7,517.7 285.5,527.8" stroke-width="1.15" />
<polyline points="291.0,518.4 291.7,527.0" stroke-width="1.15" />
<ellipse cx="287.9" cy="517.4" rx="3.2" ry="1.3" stroke-width="1.05"/>
<polyline points="288.3,519.0 288.8,527.3" stroke-width="1.05" />
<ellipse cx="298.7" cy="524.4" rx="4.6" ry="1.9" stroke-width="1.15"/>
<ellipse cx="298.7" cy="526.3" rx="4.6" ry="1.9" stroke-width="1.05"/>
<polyline points="259.0,538.7 285.5,529.5 298.7,529.6 316.7,523.0" stroke-width="1.05" />
<polyline points="314.4,540.3 330.0,538.0 393.0,533.3" stroke-width="0.85" />
<polyline points="292.5,541.6 298.0,541.2" stroke-width="1.05" />
<polyline points="360.0,536.2 395.0,533.0" stroke-width="0.85" />
<polyline points="395.0,533.2 537.6,577.8" stroke-width="1.15" />
<polyline points="395.0,533.2 377.5,540.0 520.0,584.4" stroke-width="1.15" />
<polyline points="377.5,540.0 378.3,543.2 512.5,586.5" stroke-width="1.05" />
<path d="M381.2,545 L375.2,553.5 L378.5,556.5 Q383,551 388.7,550.6 L396.2,551.2 L402.5,555 L403.7,555.2 L407.5,553.1 L407.5,551.5" stroke-width="1.15"/>
<path d="M383.1,545.6 L378.1,551.2 Q384,548 391.2,548.1 L401,551 L402.3,554.6" stroke-width="1"/>
<path d="M537.6,577.8 L572.2,565.3 Q577,563.5 582,564.2 L614.9,574 Q619,575.5 618.8,578.8 L618.4,583 L550.3,610 Q545,611.7 540.5,610.7 L507.8,600.6 Q504.3,599.3 504.4,595.5 L504.8,591.6" stroke-width="1.15"/>
<path d="M618.8,578.8 Q618.5,580.5 616,581.5 L550.3,605.8 Q545,607.3 540.5,606.4 L507.5,596.3 Q504.3,594.8 504.8,591.6 Q505,590 507,589 L520,584.4" stroke-width="1.15"/>
</g></svg></body></html>
